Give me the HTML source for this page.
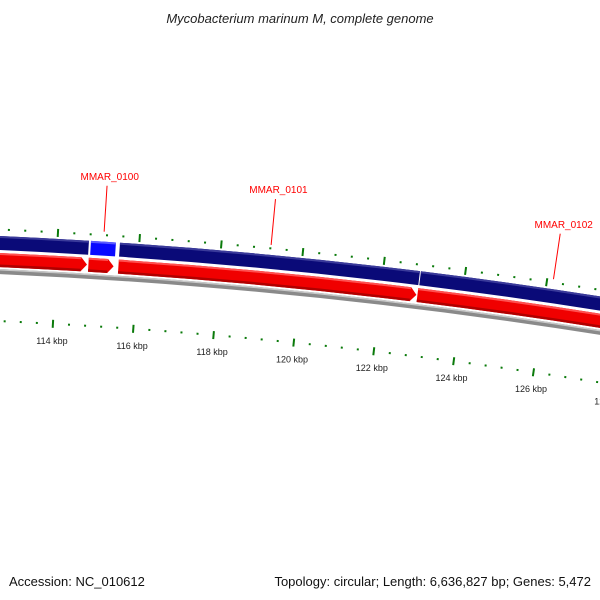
<!DOCTYPE html>
<html><head><meta charset="utf-8"><style>
html,body{margin:0;padding:0;background:#fff;}
svg{display:block;font-family:"Liberation Sans","DejaVu Sans",sans-serif;}
</style></head><body>
<svg id="map" width="600" height="600" viewBox="0 0 600 600">
<text x="300" y="23" text-anchor="middle" font-size="13" font-style="italic" fill="#222">Mycobacterium marinum M, complete genome</text>
<g id="ticks"></g>
<g id="bands"></g>
<g id="labels"></g>
<text x="9" y="586" font-size="13" fill="#111">Accession: NC_010612</text>
<text x="591" y="586" font-size="13" fill="#111" text-anchor="end">Topology: circular; Length: 6,636,827 bp; Genes: 5,472</text>
</svg>
<script>
// data
const blueStarts = [100000, 114818, 115528, 122920];
const blueEnds   = [114768, 115429, 122896, 135000];
const blueKinds  = ['dark', 'light', 'dark', 'dark'];
const redStarts  = [100000, 114790, 115528, 122905];
const redEnds    = [114755, 115410, 122880, 135000];
const tickStart = 104000, tickEnd = 134000, tickStep = 400, majorStep = 2000;
const calloutNames = ['MMAR_0100', 'MMAR_0101', 'MMAR_0102'];
const calloutBp    = [115124, 119212, 126153];

// geometry
const cx = -240, cy = 5630.7, R0 = 5400;
const bpRef = 114000, thetaRef = 0.05514, k = 7.575e-6;
const NS = 'http://www.w3.org/2000/svg';
function ang(bp){ return thetaRef + (bp - bpRef) * k; }
function pt(r, a){ return [cx + r*Math.sin(a), cy - r*Math.cos(a)]; }
function f(p){ return p[0].toFixed(2)+' '+p[1].toFixed(2); }
function band(r1, r2, a1, a2){
  return 'M'+f(pt(r1,a1))+' A'+r1+' '+r1+' 0 0 1 '+f(pt(r1,a2))+' L'+f(pt(r2,a2))+' A'+r2+' '+r2+' 0 0 0 '+f(pt(r2,a1))+' Z';
}
function arrow(r1, r2, a1, a2){
  const h = 6/r1, m = (r1+r2)/2;
  return 'M'+f(pt(r1,a1))+' A'+r1+' '+r1+' 0 0 1 '+f(pt(r1,a2-h))+' L'+f(pt(m,a2))+' L'+f(pt(r2,a2-h))+' A'+r2+' '+r2+' 0 0 0 '+f(pt(r2,a1))+' Z';
}
function mk(tag, attrs, parent){
  const e = document.createElementNS(NS, tag);
  for (const a in attrs) e.setAttribute(a, attrs[a]);
  parent.appendChild(e); return e;
}
const ticksG = document.getElementById('ticks');
const bandsG = document.getElementById('bands');
const labelsG = document.getElementById('labels');

// backbone
let bb = mk('path', {d: band(R0-33, R0-38, ang(100000), ang(135000)), fill:'#8a8a8a'}, bandsG);


let bbh = mk('path', {d: band(R0-33, R0-34.5, ang(100000), ang(135000)), fill:'#c8c8c8'}, bandsG);



// blue track
for (let i=0;i<blueStarts.length;i++){
  const a1 = ang(blueStarts[i]), a2 = ang(blueEnds[i]);
  const col = blueKinds[i]==='light' ? '#0a0aff' : '#0a0a78';
  const p = mk('path', {d: band(R0, R0-14, a1, a2), fill: col}, bandsG);
  
  
  const hl = mk('path', {d: band(R0, R0-2, a1, a2), fill: blueKinds[i]==='light' ? '#5a5aff' : '#3a3a9a'}, bandsG);
  
  
}
// red track
for (let i=0;i<redStarts.length;i++){
  const a1 = ang(redStarts[i]), a2 = ang(redEnds[i]);
  const p = mk('path', {d: arrow(R0-17, R0-31, a1, a2), fill:'#f00000'}, bandsG);
  
  
  const lo = mk('path', {d: band(R0-28.5, R0-31, a1, a2-6/(R0-17)), fill:'#b00000'}, bandsG);
  
  
  const hi = mk('path', {d: band(R0-17, R0-19, a1, a2-6/(R0-17)), fill:'#ff5050'}, bandsG);
  
  
}
// ticks
for (let bp=tickStart; bp<=tickEnd; bp+=tickStep){
  const a = ang(bp);
  const major = bp % majorStep === 0;
  const oA = major ? [R0+2, R0+10] : [R0+5.5, R0+7.5];
  const iA = major ? [R0-81, R0-89] : [R0-84, R0-86];
  const t1 = mk('line', {x1:pt(oA[0],a)[0], y1:pt(oA[0],a)[1], x2:pt(oA[1],a)[0], y2:pt(oA[1],a)[1], stroke:'#0a7a0a', 'stroke-width': major?2:2}, ticksG);
  
  
  const t2 = mk('line', {x1:pt(iA[0],a)[0], y1:pt(iA[0],a)[1], x2:pt(iA[1],a)[0], y2:pt(iA[1],a)[1], stroke:'#0a7a0a', 'stroke-width': 2}, ticksG);
  
  
  if (major){
    const p = pt(R0-102, a);
    const t = mk('text', {x:p[0], y:p[1]+3, 'text-anchor':'middle', 'font-size':'9', fill:'#222'}, ticksG);
    t.textContent = (bp/1000)+' kbp';
    
    
  }
}
// callouts
for (let i=0;i<calloutNames.length;i++){
  const a = ang(calloutBp[i]);
  const p1 = pt(R0+10, a), p2 = pt(R0+56, a), pl = pt(R0+66, a);
  const l = mk('line', {x1:p1[0], y1:p1[1], x2:p2[0], y2:p2[1], stroke:'#ff0000', 'stroke-width':1}, labelsG);
  
  
  const t = mk('text', {x:pl[0]+2, y:pl[1]+4, 'text-anchor':'middle', 'font-size':'10', fill:'#ff0000'}, labelsG);
  t.textContent = calloutNames[i];
  
  
}
</script>
</body></html>
